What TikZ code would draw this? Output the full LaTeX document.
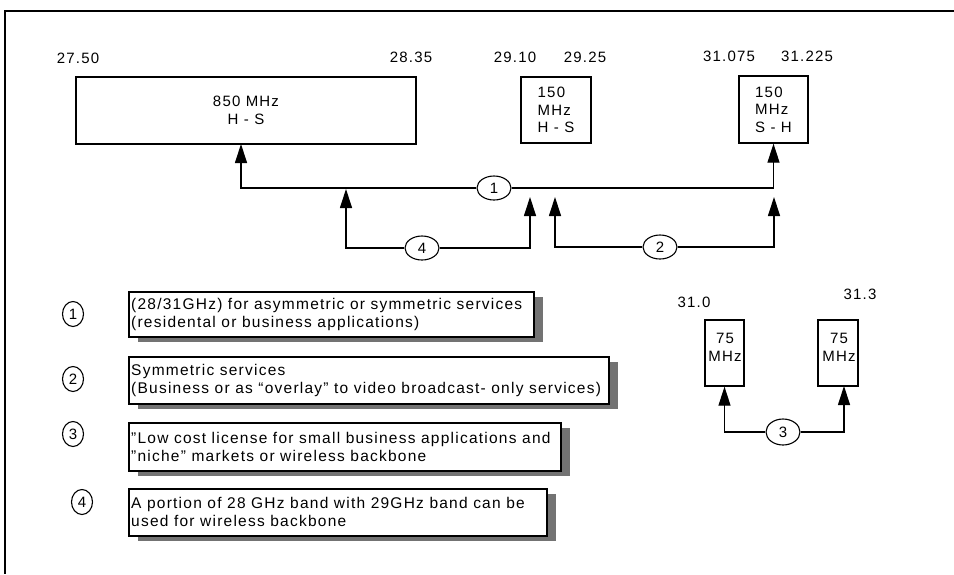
\documentclass[tikz,border=0pt]{standalone}
\usepackage{fontspec}
\setmainfont{Liberation Sans}[LetterSpace=8]
\usetikzlibrary{arrows.meta,shapes.geometric,shadows}
\begin{document}
\begin{tikzpicture}[x=1pt,y=-1pt,
  every node/.style={font=\fontsize{15}{17.5}\selectfont},
  bandbox/.style={draw, line width=1.3pt, inner sep=0pt},
  lbl/.style={inner sep=0pt},
  tag/.style={draw, ellipse, line width=1.1pt, inner sep=0pt, minimum width=34pt, minimum height=24pt, fill=white},
  ltag/.style={draw, ellipse, line width=1.1pt, inner sep=0pt, minimum width=21pt, minimum height=25pt},
  legbox/.style={draw, line width=1.7pt, fill=white, inner sep=0pt, anchor=north west,
     drop shadow={shadow xshift=9pt, shadow yshift=-5pt, fill=black!55, opacity=1}},
  legtxt/.style={inner sep=0pt, align=left, anchor=west, font=\fontsize{15.5}{18}\selectfont},
  conn/.style={line width=1.2pt},
  arr/.style={conn, -{Triangle[length=19pt,width=12pt]}}
]
\useasboundingbox (0,0) rectangle (954,574);
\fill[white] (0,0) rectangle (954,574);
% frame
\draw[line width=1.2pt] (636,11) -- (5,11) -- (5,574);
\draw[line width=2pt] (636,11) -- (954,11);

% frequency labels
\node[lbl] (v2750) at (78,58) {27.50};
\node[lbl] (v2835) at (411,57) {28.35};
\node[lbl] (v2910) at (515,57) {29.10};
\node[lbl] (v2925) at (585,57) {29.25};
\node[lbl] (v31075) at (729,56) {31.075};
\node[lbl] (v31225) at (807,56) {31.225};
\node[lbl] (v310) at (694,302) {31.0};
\node[lbl] (v313) at (860,294) {31.3};

% band boxes
\node[bandbox, minimum width=340pt, minimum height=67pt, align=center] (b850) at (246,110.5) {850 MHz\\H - S};
\node[bandbox, minimum width=70pt, minimum height=66pt, align=left] (bHS) at (556,110) {150\\MHz\\H - S};
\node[bandbox, minimum width=69pt, minimum height=67pt, align=left] (bSH) at (773.5,109.5) {150\\MHz\\S - H};
\node[bandbox, minimum width=39pt, minimum height=66pt] (b75a) at (724.5,353) {};
\node[lbl, align=center] (t75a) at (725,347.5) {75\\MHz};
\node[bandbox, minimum width=40pt, minimum height=66pt] (b75b) at (838,353) {};
\node[lbl, align=center] (t75b) at (839,347.5) {75\\MHz};

% tags
\node[tag] (c1) at (494,188) {1};
\node[tag] (c4) at (422,248) {4};
\node[tag] (c2) at (660,247) {2};
\node[tag, minimum height=26pt] (c3) at (783,432) {3};

\coordinate (p850) at (241,144);
\coordinate (pj4) at (346,189);
\coordinate (p4r) at (530,197);
\coordinate (p2l) at (555,197);
\coordinate (p2r) at (774,197);
\coordinate (p3r) at (844,386);

\draw[arr] (c1.west) -| (p850);
\draw[arr] (c1.east) -| (bSH.south);
\draw[arr] (c4.west) -| (pj4);
\draw[arr] (c4.east) -| (p4r);
\draw[arr] (c2.west) -| (p2l);
\draw[arr] (c2.east) -| (p2r);
\draw[arr] (c3.west) -| (b75a.south);
\draw[arr] (c3.east) -| (p3r);

% legend
\node[ltag] (k1) at (73,314) {1};
\node[legbox, minimum width=405pt, minimum height=45pt] (L1) at (128,291) {};
\node[legtxt] (L1t) at ([xshift=3pt]L1.west) {(28/31GHz) for asymmetric or symmetric services\\(residental or business applications)};

\node[ltag] (k2) at (73,379) {2};
\node[legbox, minimum width=480pt, minimum height=47pt] (L2) at (128,356) {};
\node[legtxt] (L2t) at ([xshift=3pt]L2.west) {Symmetric services\\(Business or as “overlay” to video broadcast- only services)};

\node[ltag] (k3) at (73,434) {3};
\node[legbox, minimum width=432pt, minimum height=48pt] (L3) at (128,422) {};
\node[legtxt] (L3t) at ([xshift=3pt]L3.west) {"Low cost license for small business applications and\\"niche" markets or wireless backbone};

\node[ltag] (k4) at (82,502) {4};
\node[legbox, minimum width=418pt, minimum height=47pt] (L4) at (128,488) {};
\node[legtxt] (L4t) at ([xshift=3pt]L4.west) {A portion of 28 GHz band with 29GHz band can be\\used for wireless backbone};
\end{tikzpicture}
\end{document}
